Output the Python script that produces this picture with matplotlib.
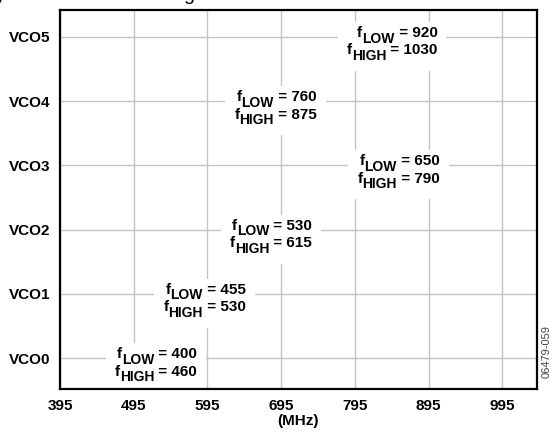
import matplotlib
matplotlib.use('Agg')
import matplotlib.pyplot as plt
from matplotlib.patches import Rectangle
from matplotlib.transforms import Bbox

plt.rcParams['font.family'] = ['Liberation Sans', 'DejaVu Sans']

# data
vco_names = ['VCO0', 'VCO1', 'VCO2', 'VCO3', 'VCO4', 'VCO5']
f_low = [400, 455, 530, 650, 760, 920]
f_high = [460, 530, 615, 790, 875, 1030]
x_ticks = [395, 495, 595, 695, 795, 895, 995]

# right edge of each label (MHz), layout only
label_right = [581, 647, 737, 910, 743, 907]

fig = plt.figure(figsize=(5.53, 4.33), dpi=100)
ax = fig.add_axes([60 / 553, 44 / 433, 477 / 553, 379 / 433])

ax.set_xlim(395, 1042)
ax.set_ylim(-0.48, 5.42)
ax.set_xticks(x_ticks)
ax.set_yticks(range(len(vco_names)))
ax.set_yticklabels(vco_names)
ax.tick_params(length=0, labelsize=11, pad=7)
for lab in ax.get_xticklabels() + ax.get_yticklabels():
    lab.set_fontweight('bold')

ax.grid(True, color='#c4c4c4', linewidth=1.0)
ax.set_axisbelow(True)
for s in ax.spines.values():
    s.set_linewidth(1.6)
    s.set_color('black')
    s.set_zorder(5)

ax.set_xlabel('(MHz)', fontsize=11, fontweight='bold', labelpad=1)

main_fs = 11
sub_fs = 10
drop = 4.0        # subscript drop, points
line_gap = 12.5   # baseline to baseline, points


def label_line(xr, y, dy, sub, val):
    # built right to left: " = val", subscript, "f"
    num = ax.annotate(' = %d' % val, xy=(xr, y), xycoords='data',
                      xytext=(0, -dy), textcoords='offset points',
                      ha='right', va='baseline', fontsize=main_fs,
                      fontweight='bold', zorder=4)
    s = ax.annotate(sub, xy=(0, 0), xycoords=num, xytext=(0, -drop),
                    textcoords='offset points', ha='right', va='bottom',
                    fontsize=sub_fs, fontweight='bold', zorder=4)
    f = ax.annotate('f', xy=(0, 0), xycoords=s, xytext=(0, drop),
                    textcoords='offset points', ha='right', va='bottom',
                    fontsize=main_fs, fontweight='bold', zorder=4)
    return [num, s, f]


groups = []
for i in range(len(vco_names)):
    pieces = label_line(label_right[i], i, 0, 'LOW', f_low[i])
    pieces += label_line(label_right[i], i, line_gap, 'HIGH', f_high[i])
    groups.append(pieces)

# white boxes behind the labels
fig.canvas.draw()
r = fig.canvas.get_renderer()
inv = ax.transData.inverted()
for pieces in groups:
    bb = Bbox.union([p.get_window_extent(r) for p in pieces])
    x0, y0 = inv.transform((bb.x0 - 9, bb.y0 - 8))
    x1, y1 = inv.transform((bb.x1 + 9, bb.y1 + 4))
    ax.add_patch(Rectangle((x0, y0), x1 - x0, y1 - y0, facecolor='white',
                           edgecolor='none', zorder=3))

# figure code on the right side
fig.text(547 / 553, 1 - 352 / 433, '06479-059', rotation=90, fontsize=8,
         color='#444444', ha='center', va='center')

# caption fragments cut off at the top edge
fig.text(-4 / 553, 1.0, 'y', fontsize=14, va='baseline', ha='left')
fig.text(183 / 553, 1.0, 'g', fontsize=14, va='baseline', ha='left')

fig.savefig('out.png', dpi=100)
